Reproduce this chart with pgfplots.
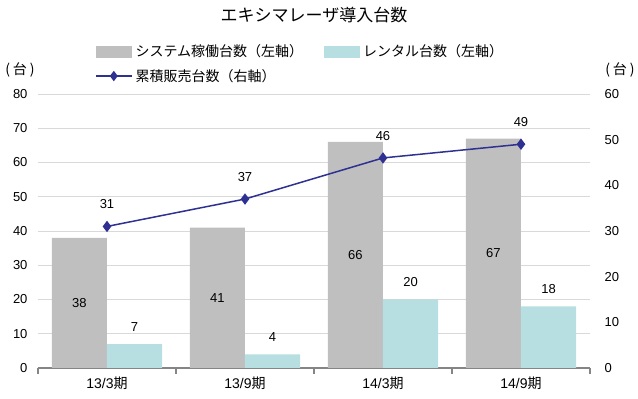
\documentclass[border=0pt]{standalone}
\usepackage{fontspec}
\setmainfont{Liberation Sans}
\newfontfamily\cjk{Noto Sans CJK JP}
\usepackage{pgfplots}
\pgfplotsset{compat=1.18}
\definecolor{barGray}{HTML}{BFBFBF}
\definecolor{barCyan}{HTML}{B7DEE1}
\definecolor{lineNavy}{HTML}{2E3192}
\definecolor{gridGray}{HTML}{D9D9D9}
\definecolor{axisGray}{HTML}{858585}
\pgfplotsset{
  barlegend/.style={legend image code/.code={\fill[##1] (0pt,-6pt) rectangle (36pt,6pt);}},
  linelegend/.style={legend image code/.code={\draw[mark repeat=2,mark phase=2,##1] plot coordinates {(0pt,0pt) (18pt,0pt) (36pt,0pt)};}},
}
\begin{document}
\begin{tikzpicture}
\path[use as bounding box] (-38pt,-31pt) rectangle (600pt,368pt);
\begin{axis}[
  scale only axis, width=552pt, height=274pt,
  xmin=-0.5, xmax=3.5, ymin=0, ymax=80,
  ytick={0,10,...,80},
  axis x line*=bottom, axis y line*=left,
  y axis line style={draw=none},
  x axis line style={draw=axisGray, line width=2.5pt},
  ymajorgrids, grid style={gridGray, line width=0.8pt},
  major y tick style={draw=none},
  xtick={0,1,2,3},
  xticklabels={{13/3\cjk 期},{13/9\cjk 期},{14/3\cjk 期},{14/9\cjk 期}},
  major x tick style={draw=none},
  minor xtick={-0.5,0.5,1.5,2.5,3.5},
  minor x tick style={draw=axisGray, line width=2pt},
  xtick align=outside, minor tick length=6pt, major tick length=0pt,
  x tick label style={font=\fontsize{14}{16}\selectfont, yshift=-5pt},
  y tick label style={font=\fontsize{13}{15}\selectfont, xshift=-7pt},
  /pgf/number format/assume math mode=true,
  clip=false,
  legend columns=2,
  legend style={draw=none, fill=none, inner sep=0pt, at={(axis description cs:0.103,1)}, anchor=south west, yshift=9pt,
    font=\cjk\fontsize{14}{16}\selectfont, row sep=7pt,
    /tikz/every even column/.append style={column sep=18pt},
    nodes={inner xsep=3pt}},
  legend cell align=left,
  title={\cjk\fontsize{17}{19}\selectfont エキシマレーザ導入台数},
  title style={yshift=62pt},
]
\addlegendimage{barlegend, draw=none, fill=barGray}
\addlegendentry{システム稼働台数（左軸）}
\addlegendimage{barlegend, draw=none, fill=barCyan}
\addlegendentry{レンタル台数（左軸）}
\addlegendimage{linelegend, lineNavy, line width=1.5pt, mark=diamond*, mark size=4pt, mark options={fill=lineNavy}}
\addlegendentry{累積販売台数（右軸）}
\addplot[ybar, bar width=55.2pt, bar shift=-27.6pt, fill=barGray, draw=none,
  nodes near coords, visualization depends on=y \as \rawy,
  every node near coord/.append style={anchor=center, xshift=-27.6pt, yshift={-1.7125pt*\rawy}, font=\fontsize{13}{15}\selectfont, text=black},
  forget plot]
  coordinates {(0,38) (1,41) (2,66) (3,67)};
\addplot[ybar, bar width=55.2pt, bar shift=27.6pt, fill=barCyan, draw=none,
  nodes near coords,
  every node near coord/.append style={anchor=center, xshift=27.6pt, yshift=17pt, font=\fontsize{13}{15}\selectfont, text=black},
  forget plot]
  coordinates {(0,7) (1,4) (2,20) (3,18)};
\end{axis}
\begin{axis}[
  scale only axis, width=552pt, height=274pt,
  xmin=-0.5, xmax=3.5, ymin=0, ymax=60,
  ytick={0,10,...,60},
  axis y line*=right, axis x line=none,
  y axis line style={draw=none},
  major y tick style={draw=none},
  y tick label style={font=\fontsize{13}{15}\selectfont, xshift=11pt},
  /pgf/number format/assume math mode=true,
  clip=false,
]
\addplot[lineNavy, line width=1.5pt, mark=diamond*, mark size=4.5pt, mark options={fill=lineNavy},
  nodes near coords,
  every node near coord/.append style={anchor=center, yshift=22pt, font=\fontsize{13}{15}\selectfont, text=black}]
  coordinates {(0,31) (1,37) (2,46) (3,49)};
\node[font=\cjk\fontsize{14}{16}\selectfont, anchor=center, inner sep=0pt] at (rel axis cs:0,1) [xshift=-18pt, yshift=24pt] {(\kern3pt 台\kern3pt )};
\node[font=\cjk\fontsize{14}{16}\selectfont, anchor=center, inner sep=0pt] at (rel axis cs:1,1) [xshift=30pt, yshift=24pt] {(\kern3pt 台\kern3pt )};
\end{axis}
\end{tikzpicture}
\end{document}
